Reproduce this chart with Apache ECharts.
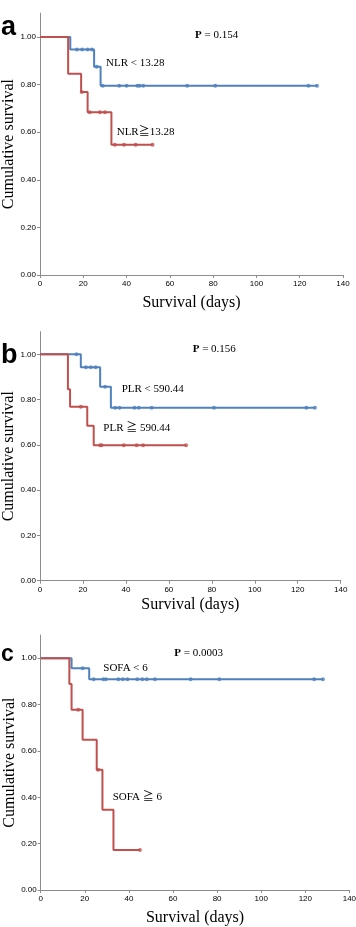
<!DOCTYPE html>
<html>
<head>
<meta charset="utf-8">
<script src="https://cdn.jsdelivr.net/npm/echarts@6/dist/echarts.min.js"></script>
<style>
  html, body { margin: 0; padding: 0; background: #fff; }
  #chart { width: 356px; height: 927px; }
</style>
</head>
<body>
<div id="chart"></div>
<script>
//////////// 데이터 ////////////
var xTicks = [0, 20, 40, 60, 80, 100, 120, 140];
var yTicks = [0, 0.2, 0.4, 0.6, 0.8, 1.0];

// a : NLR
var aBlueT = [0, 14, 25, 28, 128];
var aBlueS = [1, 0.947, 0.875, 0.795, 0.795];
var aBlueC = [17, 19.5, 22, 24, 26.2, 29, 36.6, 40, 45, 46, 47.7, 68, 81, 124, 128];
var aRedT = [0, 13, 19, 22, 33, 52];
var aRedS = [1, 0.846, 0.769, 0.684, 0.547, 0.547];
var aRedC = [19.3, 23, 27.7, 30, 34.6, 38.8, 44.2, 52];

// b : PLR
var bBlueT = [0, 19, 28, 33, 128];
var bBlueS = [1, 0.943, 0.857, 0.764, 0.764];
var bBlueC = [17, 21.4, 23.7, 25.9, 30.3, 35, 37, 44, 46, 52, 81, 124, 128];
var bRedT = [0, 13, 14, 22, 25, 68];
var bRedS = [1, 0.846, 0.769, 0.684, 0.598, 0.598];
var bRedC = [19, 28, 28.7, 39, 45, 48, 68];

// c : SOFA
var cBlueT = [0, 14, 22, 128];
var cBlueS = [1, 0.957, 0.909, 0.909];
var cBlueC = [19, 24, 28.4, 29.6, 35.2, 37.2, 39.3, 43.8, 46.1, 48.1, 51.8, 68, 81, 124, 128];
var cRedT = [0, 13, 14, 19, 25.4, 28, 33, 45];
var cRedS = [1, 0.889, 0.778, 0.648, 0.519, 0.346, 0.173, 0.173];
var cRedC = [17, 26, 45];

var BLUE = '#4f81bd';
var RED = '#c0504d';
var AXIS = '#8c8c8c';
var SERIF = '"Liberation Serif", "Times New Roman", "Noto Sans CJK JP", serif';

//////////// 유틸 ////////////
// 곡선 데이터 [t, s]
function curve(t, s) {
	var out = [];
	for (var i = 0; i < t.length; i++) out.push([t[i], s[i]]);
	return out;
}
// 중도절단 시점의 생존율 (곡선에서 찾기)
function censor(t, s, c) {
	var out = [];
	for (var j = 0; j < c.length; j++) {
		var v = s[0];
		for (var i = 0; i < t.length; i++) {
			if (t[i] <= c[j]) v = s[i];
		}
		out.push([c[j], v]);
	}
	return out;
}

//////////// 차트 구성 ////////////
var grids = [
	{left: 40, top: 13.2, width: 303, height: 261.8, xGap: 20},
	{left: 40, top: 331.7, width: 300.7, height: 249, xGap: 16},
	{left: 40.7, top: 635.1, width: 308.7, height: 254.9, xGap: 20}
];

var panels = [
	[aBlueT, aBlueS, aBlueC, aRedT, aRedS, aRedC],
	[bBlueT, bBlueS, bBlueC, bRedT, bRedS, bRedC],
	[cBlueT, cBlueS, cBlueC, cRedT, cRedS, cRedC]
];

var option = {
	animation: false,
	grid: [], xAxis: [], yAxis: [], series: [], graphic: []
};

for (var k = 0; k < 3; k++) {
	var g = grids[k];
	option.grid.push({left: g.left, top: g.top, width: g.width, height: g.height,
		containLabel: false, outerBoundsMode: 'none'});
	option.xAxis.push({
		gridIndex: k, type: 'value', min: 0, max: 140, interval: 20,
		name: 'Survival (days)', nameLocation: 'middle', nameGap: g.xGap, nameMoveOverlap: false,
		nameTextStyle: {fontFamily: SERIF, fontSize: 16, color: '#000'},
		axisLine: {show: true, lineStyle: {color: AXIS, width: 1}},
		axisTick: {show: true, length: 3, lineStyle: {color: AXIS}, customValues: xTicks},
		axisLabel: {fontFamily: 'Liberation Sans', fontSize: 8, color: '#000', margin: 5, customValues: xTicks},
		splitLine: {show: false}
	});
	option.yAxis.push({
		gridIndex: k, type: 'value', min: 0, max: 1.1, interval: 0.2,
		name: 'Cumulative survival', nameLocation: 'middle', nameGap: 23, nameRotate: 90,
		nameMoveOverlap: false,
		nameTextStyle: {fontFamily: SERIF, fontSize: 16, color: '#000'},
		axisLine: {show: true, lineStyle: {color: AXIS, width: 1}},
		axisTick: {show: true, length: 3, lineStyle: {color: AXIS}, customValues: yTicks},
		axisLabel: {fontFamily: 'Liberation Sans', fontSize: 8, color: '#000', margin: 4, customValues: yTicks,
			formatter: function(v) { return v.toFixed(2); }},
		splitLine: {show: false}
	});

	var p = panels[k];
	// 파랑 먼저, 빨강 위에
	[[p[0], p[1], p[2], BLUE], [p[3], p[4], p[5], RED]].forEach(function(d) {
		option.series.push({
			type: 'line', step: 'end', xAxisIndex: k, yAxisIndex: k,
			data: curve(d[0], d[1]), showSymbol: false,
			lineStyle: {color: d[3], width: 2}, itemStyle: {color: d[3]}
		});
		option.series.push({
			type: 'scatter', xAxisIndex: k, yAxisIndex: k,
			data: censor(d[0], d[1], d[2]), symbol: 'circle', symbolSize: 4,
			itemStyle: {color: d[3]}
		});
	});
}

// 라벨
function note(x, y, txt) {
	return {type: 'text', x: x, y: y, style: {
		text: txt, fill: '#000', font: '11px ' + SERIF, align: 'left', verticalAlign: 'middle',
		rich: {b: {fontWeight: 'bold', fontSize: 11, fontFamily: SERIF}}
	}};
}
function letter(x, y, txt, size) {
	return {type: 'text', x: x, y: y, style: {
		text: txt, fill: '#000', font: 'bold ' + size + 'px "Liberation Sans", Arial, sans-serif',
		align: 'left', verticalAlign: 'alphabetic'
	}};
}

option.graphic = [
	letter(1, 14.5, 'a', 27),
	letter(1, 342, 'b', 27),
	letter(1, 643.5, 'c', 23),
	note(195, 35, '{b|P} = 0.154'),
	note(106, 62.7, 'NLR < 13.28'),
	note(116.7, 131.7, 'NLR≧13.28'),
	note(192.7, 349, '{b|P} = 0.156'),
	note(121.7, 389.3, 'PLR < 590.44'),
	note(103.3, 428.3, 'PLR ≧ 590.44'),
	note(174.3, 653.3, '{b|P} = 0.0003'),
	note(103.3, 668.3, 'SOFA < 6'),
	note(112.7, 796.7, 'SOFA ≧ 6')
];

var chart = echarts.init(document.getElementById('chart'), null, {renderer: 'canvas'});
chart.setOption(option);
</script>
</body>
</html>
